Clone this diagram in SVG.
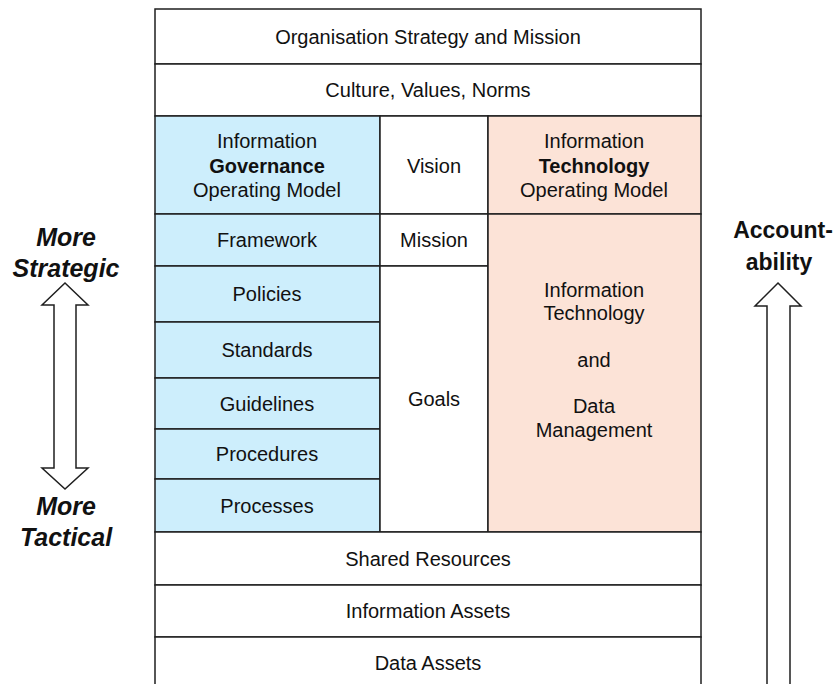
<svg xmlns="http://www.w3.org/2000/svg" width="838" height="684" viewBox="0 0 838 684">
<style>
.c{stroke:#1f1f1f;stroke-width:1.5}
.w{fill:#ffffff}
.b{fill:#cdeefc}
.p{fill:#fce3d7}
text{font-family:"Liberation Sans",Arial,sans-serif;font-size:20px;fill:#111;text-anchor:middle;dominant-baseline:central}
.bd{font-weight:bold}
.lab{font-size:23px;font-weight:bold}
.it{font-size:25px;font-style:italic}
.arr{fill:#ffffff;stroke:#1f1f1f;stroke-width:1.5}
</style>
<rect x="0" y="0" width="838" height="684" fill="#ffffff"/>
<g id="strategy"><rect class="c w" x="155" y="9" width="546" height="55"/><text x="428" y="37">Organisation Strategy and Mission</text></g>
<g id="culture"><rect class="c w" x="155" y="64" width="546" height="52"/><text x="428" y="90">Culture, Values, Norms</text></g>
<g id="igom"><rect class="c b" x="155" y="116" width="225" height="98"/><text x="267" y="141">Information</text><text class="bd" x="267" y="166">Governance</text><text x="267" y="190">Operating Model</text></g>
<g id="vision"><rect class="c w" x="380" y="116" width="108" height="98"/><text x="434" y="166">Vision</text></g>
<g id="itom"><rect class="c p" x="488" y="116" width="213" height="98"/><text x="594" y="141">Information</text><text class="bd" x="594" y="166">Technology</text><text x="594" y="190">Operating Model</text></g>
<g id="framework"><rect class="c b" x="155" y="214" width="225" height="52"/><text x="267" y="240">Framework</text></g>
<g id="policies"><rect class="c b" x="155" y="266" width="225" height="56"/><text x="267" y="294">Policies</text></g>
<g id="standards"><rect class="c b" x="155" y="322" width="225" height="56"/><text x="267" y="350">Standards</text></g>
<g id="guidelines"><rect class="c b" x="155" y="378" width="225" height="51"/><text x="267" y="403.5">Guidelines</text></g>
<g id="procedures"><rect class="c b" x="155" y="429" width="225" height="50"/><text x="267" y="454">Procedures</text></g>
<g id="processes"><rect class="c b" x="155" y="479" width="225" height="53"/><text x="267" y="505.5">Processes</text></g>
<g id="mission"><rect class="c w" x="380" y="214" width="108" height="52"/><text x="434" y="240">Mission</text></g>
<g id="goals"><rect class="c w" x="380" y="266" width="108" height="266"/><text x="434" y="399">Goals</text></g>
<g id="itdm"><rect class="c p" x="488" y="214" width="213" height="318"/><text x="594" y="290">Information</text><text x="594" y="313">Technology</text><text x="594" y="360">and</text><text x="594" y="406">Data</text><text x="594" y="430">Management</text></g>
<g id="shared"><rect class="c w" x="155" y="532" width="546" height="53"/><text x="428" y="559">Shared Resources</text></g>
<g id="infoassets"><rect class="c w" x="155" y="585" width="546" height="52"/><text x="428" y="611">Information Assets</text></g>
<g id="dataassets"><rect class="c w" x="155" y="637" width="546" height="60"/><text x="428" y="663">Data Assets</text></g>
<g id="connectors">
<polygon class="arr" points="65,283 88,305 76,305 76,468 88,468 65,489 42,468 54,468 54,305 42,305"/>
<polygon class="arr" points="778,283 801,306 790,306 790,700 767,700 767,306 755,306"/>
</g>
<g id="label-strategic"><text class="lab it" x="66" y="237">More</text><text class="lab it" x="66" y="268">Strategic</text></g>
<g id="label-tactical"><text class="lab it" x="66" y="506">More</text><text class="lab it" x="66" y="537">Tactical</text></g>
<g id="label-accountability"><text class="lab" x="783" y="230">Account-</text><text class="lab" x="779" y="262">ability</text></g>
</svg>
